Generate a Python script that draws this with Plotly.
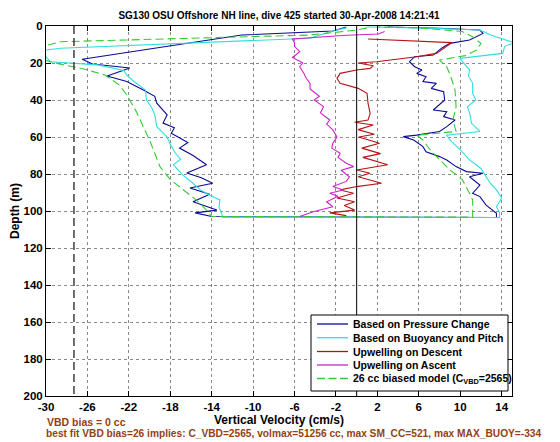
import plotly.graph_objects as go

# ---------------- data ----------------
title_text = "SG130 OSU Offshore NH line, dive 425 started 30-Apr-2008 14:21:41"
x_label = "Vertical Velocity (cm/s)"
y_label = "Depth (m)"
note1 = "VBD bias = 0 cc"
note2 = "best fit VBD bias=26 implies: C_VBD=2565, volmax=51256 cc, max SM_CC=521, max MAX_BUOY=-334"

series_names = [
    "Based on Pressure Change",
    "Based on Buoyancy and Pitch",
    "Upwelling on Descent",
    "Upwelling on Ascent",
    "26 cc biased model (C<sub>VBD</sub>=2565)",
]

x_ticks = [-30, -26, -22, -18, -14, -10, -6, -2, 2, 6, 10, 14]
y_ticks = [0, 20, 40, 60, 80, 100, 120, 140, 160, 180, 200]

# Based on pressure change (descent then ascent)
press_depth = [0.5, 2.7, 4.9, 18, 20.5, 22.7, 27, 30, 34.6, 38, 41.7, 45, 48, 52.5, 55, 58, 63, 66, 70,
               75, 79.5, 82, 85, 87.6, 91, 95, 97, 99.5, 101, 103,
               103.5, 101.2, 96.8, 92.2, 90.4, 86, 81.5, 79.6, 78.7, 76, 72.4, 70.6, 68, 65.2, 61.6,
               59.8, 59, 57, 54.4, 50.8, 49, 46.3, 45.4, 40, 35.5, 33.7, 31, 30, 27.4, 25.6, 23.8, 22,
               19.3, 16.6, 15.7, 12, 9.4, 7.6, 4, 2.2, 1.2, 0.5]
press_vel = [-1, -2.3, -11.1, -26.5, -25.5, -21.9, -24.1, -22.2, -20.6, -19.5, -19.3, -18.8, -18.3, -18.7,
             -17.6, -17.9, -16.3, -17.1, -15.8, -14.5, -16.4, -15.0, -13.9, -16.1, -14.2, -15.8, -14.8,
             -13.5, -15.6, -14.0,
             13.5, 13.5, 12.5, 11.9, 11.2, 11.9, 10.9, 12.2, 10.6, 9.6, 8.7, 8.0, 6.7, 6.4, 5.5,
             4.5, 5.8, 8.0, 8.7, 9.5, 8.4, 8.7, 7.4, 8.5, 8.4, 7.2, 7.7, 6.4, 6.7, 5.8, 6.3, 5.6,
             5.1, 5.6, 7.4, 8.2, 9.0, 10.9, 12.2, 11.9, 8.0, 3.0]

# Based on buoyancy and pitch
buoy_depth = [1, 3, 6.6, 12, 14, 16.6, 19.3, 20, 21, 24, 26.5, 30, 34.6, 40, 44, 48, 54.4, 60, 64, 68.8,
              72, 75, 80.5, 85, 88.6, 92, 94, 98, 102, 103.3,
              103.5, 101, 97.7, 93, 88.6, 85, 81.5, 77, 72.4, 67, 61.6, 59, 57, 52.6, 47, 43.6, 40, 36.4,
              31, 27, 23.8, 19.3, 17.5, 14.8, 11, 9, 7.6, 5, 2.2, 1, 0.5]
buoy_vel = [-1, -2.5, -4.5, -28.6, -31.5, -30, -29.6, -27.7, -25, -22.5, -22.2, -21.5, -20.4, -20.3, -19.8,
            -19.5, -19.3, -18.3, -18.0, -17.5, -17.0, -17.7, -16.8, -15.8, -15.1, -14.0, -13.2, -13.3,
            -13.0, -13.0,
            13.8, 13.8, 13.5, 14.0, 13.5, 12.9, 12.5, 12.0, 10.9, 10.0, 9.0, 8.7, 11.9, 11.1, 10.9, 10.7,
            11.5, 11.2, 11.2, 10.8, 10.9, 10.2, 9.96, 14.1, 14.3, 15.2, 14.5, 13.0, 11.9, 6.0, 1.0]

# Upwelling on descent
updesc_depth = [7, 9, 14.8, 16.6, 19.3, 20, 21.5, 22.9, 23.8, 25.6, 28.3, 31, 33.7, 36.4, 41.8, 47.2,
                50.8, 52, 53.5, 56, 58.5, 60, 63.4, 66, 69, 71, 75, 77.8, 79.6, 81.5, 85, 86.8, 88.6,
                90.4, 93, 95, 97, 99.5, 101, 102.5]
updesc_vel = [1.1, 9.2, 7.7, 5.8, 1.9, 0.15, 1.6, 1.3, 0.0, -1.6, -1.9, -1.6, 0.15, 1.0, 1.1, 1.3,
              1.1, -0.2, 1.6, 0.15, 1.7, 0.2, 2.2, 0.5, 2.3, 0.6, 3.0, 0.0, 1.3, 0.15, 2.4, 0.0, -1.6,
              -0.3, -1.9, -0.2, -1.2, -0.2, -2.6, -1.0]

# Upwelling on ascent
upasc_depth = [103, 100.4, 97.7, 95, 92, 90.4, 88.6, 86.8, 84, 81.5, 78, 76, 74.2, 71, 68.8, 66, 63.4,
               60, 56.2, 53, 50.8, 47, 43.6, 40, 38, 34, 31, 28, 25.5, 22, 20, 17, 13.9, 11, 9, 7, 5,
               4.3, 3]
upasc_vel = [-5.5, -4.2, -2.3, -2.9, -1.8, -2.6, -1.3, -2.3, -1.0, -0.7, -1.5, -0.3, -1.0, -1.8, -1.6,
             -2.4, -2.3, -1.9, -2.3, -2.9, -2.6, -3.5, -3.2, -4.1, -3.6, -4.5, -4.5, -4.9, -5.1, -5.5,
             -5.2, -6.2, -5.5, -6.0, -6.0, -6.2, -1.0, 2.1, 2.7]

# 26 cc biased model
model_depth = [1, 2.2, 4.9, 8.5, 10, 12, 16, 19.3, 21, 23, 26.5, 32, 37.3, 41.8, 46, 50.8, 58, 63, 68.8,
               76, 83, 88.6, 94, 99.5, 103,
               103.3, 100.4, 94, 90.4, 83, 77.8, 72.4, 67, 61.6, 59, 57, 50.8, 43.6, 34.6, 27.4, 22,
               18.4, 16, 13, 9.4, 5.8, 3, 1, 0.5]
model_vel = [1.0, 0.0, -4.5, -28.6, -29.6, -31.5, -31.5, -29.6, -28.3, -26.5, -24.3, -22.9, -22.2, -21.7,
             -21.3, -20.9, -20.3, -19.9, -19.5, -19.0, -18.0, -16.7, -15.5, -14.5, -14.0,
             11.2, 11.2, 11.2, 10.9, 10.2, 9.0, 8.0, 7.1, 6.4, 5.8, 9.6, 9.3, 9.6, 9.5, 9.1, 8.7,
             8.0, 10.5, 11.6, 12.0, 11.2, 10.2, 6.0, 2.0]

vbd_line_x = -27.3
zero_line_x = 0
depth_span = [0, 200]

# ---------------- styling ----------------
# The page body adds an 8 px margin, so the figure is 8 px smaller and offset.
OFF = 8
W, H = 560 - OFF, 442 - OFF
L, R, T, B = 46 - OFF, 48, 26 - OFF, 46
FONT = "Liberation Sans, Arial, Helvetica, sans-serif"
colors = ["#0a0a96", "#30dede", "#b41414", "#cc22cc", "#33cc33"]
dashes = ["solid", "solid", "solid", "solid", "8px,4px"]
brown = "#943f14"

fig = go.Figure()
data = [(press_vel, press_depth), (buoy_vel, buoy_depth), (updesc_vel, updesc_depth),
        (upasc_vel, upasc_depth), (model_vel, model_depth)]
for (xv, yv), name, c, d in zip(data, series_names, colors, dashes):
    fig.add_trace(go.Scatter(x=xv, y=yv, mode="lines", name=name, showlegend=False,
                             line=dict(color=c, width=1.1, dash=d)))

fig.add_trace(go.Scatter(x=[vbd_line_x, vbd_line_x], y=depth_span, mode="lines", showlegend=False,
                         line=dict(color="#222", width=1.3, dash="8px,4px")))
fig.add_trace(go.Scatter(x=[zero_line_x, zero_line_x], y=depth_span, mode="lines", showlegend=False,
                         line=dict(color="black", width=1)))

axis_common = dict(showline=True, linecolor="black", linewidth=1, mirror="ticks", ticks="inside",
                   ticklen=5, tickcolor="black", showgrid=True, gridcolor="#8a8a8a", griddash="dot",
                   gridwidth=1, zeroline=False, automargin=False,
                   tickfont=dict(family=FONT, size=11.5, color="black", weight="bold"))

fig.update_layout(
    width=W, height=H, margin=dict(l=L, r=R, t=T, b=B, autoexpand=False),
    paper_bgcolor="white", plot_bgcolor="white",
    title=dict(text=title_text, x=0.5, xref="paper", xanchor="center", y=1 - (15 - OFF) / H,
               yref="container", yanchor="middle",
               font=dict(family=FONT, size=10, color="black", weight="bold")),
    xaxis=dict(range=[-30, 15], tickvals=x_ticks, ticktext=[str(v) for v in x_ticks],
               title=dict(text=x_label, standoff=2,
                          font=dict(family=FONT, size=12, color="black", weight="bold")),
               **axis_common),
    yaxis=dict(range=[200, 0], tickvals=y_ticks,
               title=dict(text=y_label, standoff=6,
                          font=dict(family=FONT, size=12, color="black", weight="bold")),
               **axis_common),
    showlegend=False,
)

# ---------------- manual legend (MATLAB-style compact box) ----------------
pw, ph = W - L - R, H - T - B
def fx(px):  # page pixel x -> paper fraction
    return (px - OFF - L) / pw
def fy(py):  # page pixel y -> paper fraction
    return (H - B - (py - OFF)) / ph

shapes = [dict(type="rect", xref="paper", yref="paper", x0=fx(311), x1=fx(508), y0=fy(391), y1=fy(315),
               fillcolor="white", line=dict(color="black", width=1), layer="above")]
annotations = []
row_y = [324, 337.7, 351.5, 365, 378.5]
leg_dash = ["solid", "solid", "solid", "solid", "8px,3.5px"]
for yy, name, c, d in zip(row_y, series_names, colors, leg_dash):
    shapes.append(dict(type="line", xref="paper", yref="paper", x0=fx(317), x1=fx(348), y0=fy(yy), y1=fy(yy),
                       line=dict(color=c, width=1.3, dash=d), layer="above"))
    annotations.append(dict(text=name, xref="paper", yref="paper", x=fx(351), y=fy(yy), xanchor="left",
                            yanchor="middle", showarrow=False,
                            font=dict(family=FONT, size=10.5, color="black", weight="bold")))

annotations.append(dict(text=note1, xref="paper", yref="paper", x=fx(45), y=fy(422), xanchor="left",
                        yanchor="middle", showarrow=False,
                        font=dict(family=FONT, size=10.5, color=brown, weight="bold")))
annotations.append(dict(text=note2, xref="paper", yref="paper", x=fx(44), y=fy(433), xanchor="left",
                        yanchor="middle", showarrow=False,
                        font=dict(family=FONT, size=10.2, color=brown, weight="bold")))

fig.update_layout(shapes=shapes, annotations=annotations)

fig.write_html("out.html")
